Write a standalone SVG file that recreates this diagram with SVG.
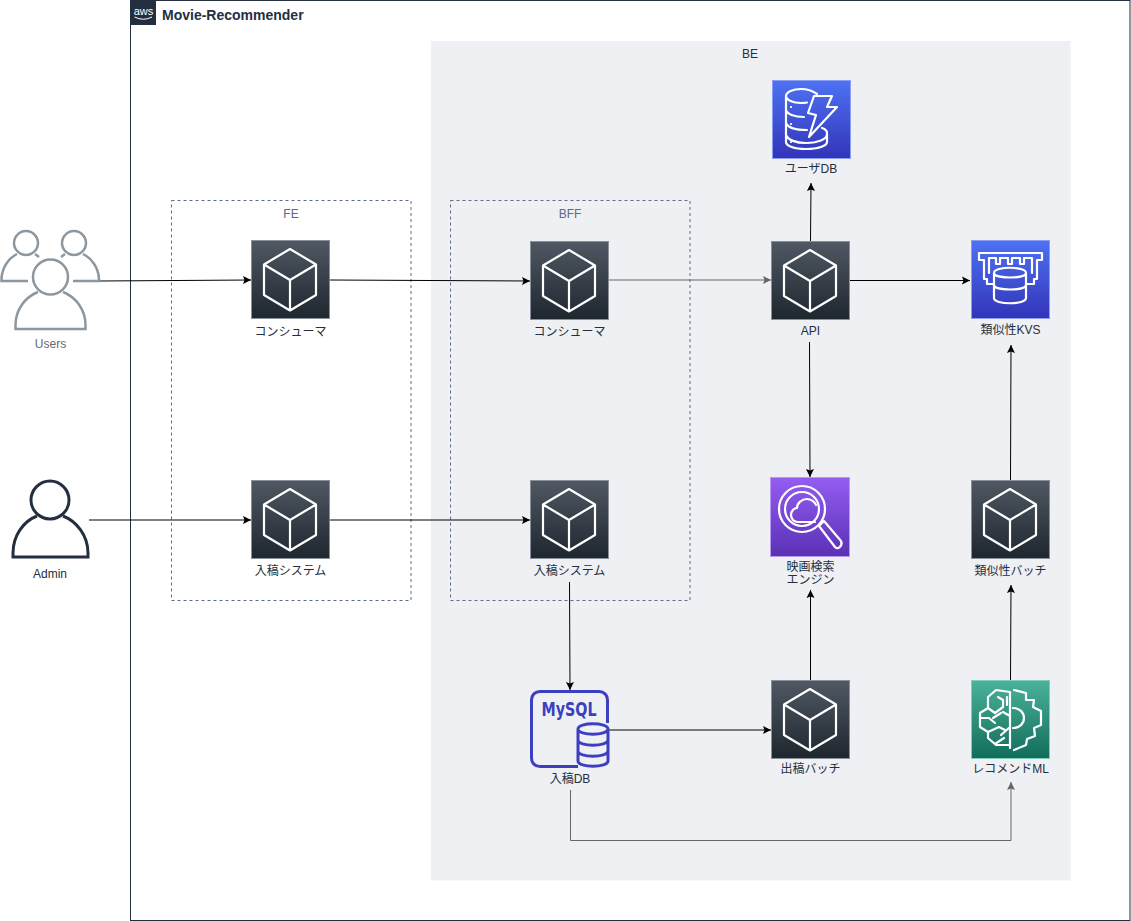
<svg xmlns="http://www.w3.org/2000/svg" width="1131" height="921" viewBox="0 0 1131 921">
<style>
text{font-family:"Liberation Sans","Noto Sans CJK JP",sans-serif;font-size:12px;fill:#232F3E;text-anchor:middle}
.conn{fill:none;stroke:#000;stroke-width:1}
.grey{stroke:#666}
.ic{fill:none;stroke:#fff;stroke-width:2.200;stroke-linejoin:round;stroke-linecap:round}
</style>
<defs>
<linearGradient id="gGrey" x1="0" y1="0" x2="0" y2="1"><stop offset="0" stop-color="#505863"/><stop offset="1" stop-color="#1E262E"/></linearGradient>
<linearGradient id="gBlue" x1="0" y1="0" x2="0" y2="1"><stop offset="0" stop-color="#4D72F3"/><stop offset="1" stop-color="#3334B9"/></linearGradient>
<linearGradient id="gPurple" x1="0" y1="0" x2="0" y2="1"><stop offset="0" stop-color="#945DF2"/><stop offset="1" stop-color="#5A30B5"/></linearGradient>
<linearGradient id="gGreen" x1="0" y1="0" x2="0" y2="1"><stop offset="0" stop-color="#4AB29A"/><stop offset="1" stop-color="#116D5B"/></linearGradient>
<marker id="ah" markerWidth="9" markerHeight="9" refX="8" refY="4.500" orient="auto" markerUnits="userSpaceOnUse"><path d="M0 .5L8 4.500L0 8.500L1.500 4.500Z" fill="#000"/></marker>
<marker id="ahg" markerWidth="9" markerHeight="9" refX="8" refY="4.500" orient="auto" markerUnits="userSpaceOnUse"><path d="M0 .5L8 4.500L0 8.500L1.500 4.500Z" fill="#666"/></marker>
<symbol id="cube" width="79" height="79" viewBox="0 0 79 79" overflow="visible">
<rect x=".5" y=".5" width="78" height="78" fill="url(#gGrey)" stroke="#8A9099"/>
<path class="ic" d="M39 9L65 24.500V55L39 70.500L13 55V24.500ZM13 24.500L39 40L65 24.500M39 40V70.500"/>
</symbol>
</defs>

<g id="frame">
<rect x="130.500" y=".5" width="999.500" height="920" fill="#fff" stroke="#232F3E"/>
<rect x="131" y="0" width="25" height="25" fill="#232F3E"/>
<text x="143.500" y="14.500" style="fill:#fff;font-size:11px">aws</text>
<path d="M134.500 17Q143.500 21.500 152 17" fill="none" stroke="#fff" stroke-width="1"/>
<text x="162" y="20" style="font-size:14px;font-weight:bold;text-anchor:start">Movie-Recommender</text>
</g>

<g id="be">
<rect x="431" y="41" width="639.500" height="839.500" fill="#EFF0F3"/>
<text x="750" y="58">BE</text>
</g>
<g id="fe">
<rect x="171.500" y="200.500" width="239.500" height="400" fill="none" stroke="#5A6C86" stroke-dasharray="3 3"/>
<text x="291" y="218" style="fill:#5A6C86">FE</text>
</g>
<g id="bff">
<rect x="450.500" y="200.500" width="239.500" height="400" fill="none" stroke="#5A6C86" stroke-dasharray="3 3"/>
<text x="570" y="218" style="fill:#5A6C86">BFF</text>
</g>

<g id="connectors">
<path class="conn" marker-end="url(#ah)" d="M100 281L251 280"/>
<path class="conn" marker-end="url(#ah)" d="M330 280L530 281"/>
<path class="conn grey" marker-end="url(#ahg)" d="M609 280H771"/>
<path class="conn" marker-end="url(#ah)" d="M810.500 241L811 183"/>
<path class="conn" marker-end="url(#ah)" d="M849 280.500H970"/>
<path class="conn" marker-end="url(#ah)" d="M809.500 342L810 477"/>
<path class="conn" marker-end="url(#ah)" d="M89 520H251"/>
<path class="conn" marker-end="url(#ah)" d="M330 520H530"/>
<path class="conn" marker-end="url(#ah)" d="M569.500 582L570 690"/>
<path class="conn" marker-end="url(#ah)" d="M609 730H771"/>
<path class="conn" marker-end="url(#ah)" d="M810.500 680V590"/>
<path class="conn" marker-end="url(#ah)" d="M1010.500 680L1011 585"/>
<path class="conn" marker-end="url(#ah)" d="M1010.500 480L1011 345"/>
<path class="conn grey" marker-end="url(#ahg)" d="M570.500 790V840.500H1011V782"/>
</g>

<g id="users" fill="none" stroke="#8C979F" stroke-width="2.500">
<circle cx="26" cy="243" r="12"/>
<circle cx="74" cy="243" r="12"/>
<circle cx="50.500" cy="277" r="17.500"/>
<path d="M17 254C9 258 2 267 1.500 279V281H28M35 254L39 257"/>
<path d="M83 254C91 258 98.500 267 99 279V281H73M65 254L61 257"/>
<path d="M63 292C76 297 85.500 310 85.500 325V329H15.500V325C15.500 310 25 297 38 292"/>
<text x="50.500" y="348" style="fill:#5F6B75;stroke:none">Users</text>
</g>

<g id="admin" fill="none" stroke="#232F3E" stroke-width="3">
<circle cx="50" cy="500" r="19"/>
<path d="M63 516C76 521 88 535 88 553V557H13V553C13 535 24 521 37 516"/>
<text x="50" y="578" style="stroke:none">Admin</text>
</g>

<g id="fe-consumer"><use href="#cube" x="251" y="240"/><text x="290.500" y="335.500">コンシューマ</text></g>
<g id="fe-ingest"><use href="#cube" x="251" y="480"/><text x="290.500" y="574.500">入稿システム</text></g>
<g id="bff-consumer"><use href="#cube" x="530" y="241"/><text x="569.500" y="335.500">コンシューマ</text></g>
<g id="bff-ingest"><use href="#cube" x="530" y="480"/><text x="569.500" y="574.500">入稿システム</text></g>
<g id="api"><use href="#cube" x="771" y="241"/><text x="810.500" y="335">API</text></g>
<g id="sim-batch"><use href="#cube" x="971" y="480"/><text x="1010.500" y="574.500">類似性バッチ</text></g>
<g id="pub-batch"><use href="#cube" x="771" y="680"/><text x="810.500" y="773">出稿バッチ</text></g>

<g id="user-db">
<g transform="translate(772 80)">
<rect x=".5" y=".5" width="78" height="78" fill="url(#gBlue)" stroke="#8A9DF0"/>
<path class="ic" d="M45 14C41 11 36 9 29 9C21 9 14 12 14 16C14 20 21 23 29 23C31 23 33 23 35 22.500M14 16V62C14 66 22 69 34 69C46 69 55 66 55 62V53C55 51 53 49 50 48M14 30C15 34 22 37 32 37M14 43C16 48 24 50 35 50M14 55C16 60 24 63 34 63C44 63 55 60 55 54"/>
<path class="ic" d="M42 16H60L55 27H65L37 57L44 35L36 33Z"/>
<path class="ic" d="M19 27h.1M19 44h.1M19 62h.1"/>
</g>
<text x="811" y="173">ユーザDB</text>
</g>

<g id="kvs">
<g transform="translate(971 240)">
<rect x=".5" y=".5" width="78" height="78" fill="url(#gBlue)" stroke="#8A9DF0"/>
<path class="ic" d="M23 44H16V39H13V20H8V13H71V20H66V39H63V44H55M18 33V18H25V24H29V18H37V24H41V18H49V24H53V18H61V33"/>
<path class="ic" d="M23 33C23 26 55 26 55 33V58C55 65 23 65 23 58ZM23 33C23 39 55 39 55 33M23 45C23 51 55 51 55 45"/>
</g>
<text x="1010.500" y="334">類似性KVS</text>
</g>

<g id="search">
<g transform="translate(770 477)">
<rect x=".5" y=".5" width="79" height="79" fill="url(#gPurple)" stroke="#B79AF0"/>
<circle class="ic" cx="32" cy="32" r="23"/>
<circle class="ic" cx="32" cy="32" r="17"/>
<path class="ic" d="M49 49L54 44L71 64C73 69 68 73 65 70Z"/>
<path class="ic" d="M45 45H28C24 45 21 42 21 38C21 34 24 31 27 31C27 26 32 22 37 22C41 22 45 25 46 28"/>
</g>
<text x="810.500" y="570.500">映画検索</text>
<text x="810.500" y="583.500">エンジン</text>
</g>

<g id="mysql">
<g transform="translate(530 690)">
<path d="M48 76.500H10C5 76.500 1.500 73 1.500 68V10C1.500 5 5 1.500 10 1.500H69C74 1.500 77.500 5 77.500 10V33" fill="none" stroke="#3C3FC0" stroke-width="3"/>
<text x="39" y="26" textLength="55" lengthAdjust="spacingAndGlyphs" style="font-family:'DejaVu Sans',sans-serif;font-size:20px;font-weight:bold;fill:#3C3FC0">MySQL</text>
<path d="M48 39C48 32 78 32 78 39V71C78 78 48 78 48 71ZM48 39C48 46 78 46 78 39M48 50C48 57 78 57 78 50M48 61C48 68 78 68 78 61" fill="#EFF0F3" stroke="#3C3FC0" stroke-width="3"/>
</g>
<text x="570" y="783">入稿DB</text>
</g>

<g id="rec-ml">
<g transform="translate(971 680)">
<rect x=".5" y=".5" width="78" height="78" fill="url(#gGreen)" stroke="#7FCDBB"/>
<path class="ic" d="M39 12V68M39 12L25 10L17 17V28L9 33V47L17 52V58L25 65H39M27 17L32 20V27L24 33L17 28M36 17V25M9 38H18L24 43M22 38L30 33M39 36L32 32M17 52L28 47L34 50M39 47L30 55M24 64L33 58"/>
<path class="ic" d="M43 10L55 13V20L63 20L62 27L70 31V45L63 48L64 56L56 59L55 65L43 70"/>
<path class="ic" d="M42 28C49 28 53 33 53 38C53 43 49 48 42 48"/>
</g>
<text x="1010.500" y="773">レコメンドML</text>
</g>
</svg>
